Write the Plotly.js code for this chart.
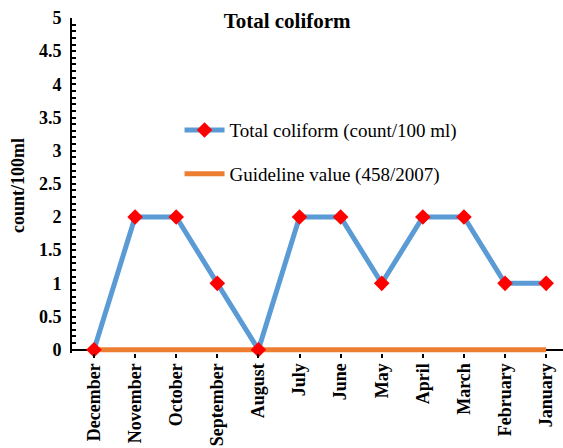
<!DOCTYPE html>
<html><head><meta charset="utf-8">
<script src="https://cdn.plot.ly/plotly-3.0.1.min.js"></script>
<style>html,body{margin:0;padding:0;background:#fff}#c{width:563px;height:448px}</style>
</head><body><div id="c"></div>
<script>
var months = ["December","November","October","September","August","July","June","May","April","March","February","January"];
var coliform = [0,2,2,1,0,2,2,1,2,2,1,1];
var guideline = [0,0,0,0,0,0,0,0,0,0,0,0];
var yTicks = [0,0.5,1,1.5,2,2.5,3,3.5,4,4.5,5];

var traces = [
  {x: months, y: guideline, name: "Guideline value (458/2007)", type: "scatter", mode: "lines",
   legendgroup: "b", legendrank: 2, line: {color: "#ED7D31", width: 5}},
  {x: months, y: coliform, name: "Total coliform (count/100 ml)", type: "scatter", mode: "lines+markers",
   legendgroup: "a", legendrank: 1, cliponaxis: false, line: {color: "#5B9BD5", width: 5}, marker: {symbol: "diamond", color: "#FF0000", size: 12}}
];
var layout = {
  width: 563, height: 448,
  margin: {l: 72, r: 0, t: 18, b: 95},
  paper_bgcolor: "#fff", plot_bgcolor: "#fff",
  font: {family: "Liberation Serif, Times New Roman, serif", color: "#000"},
  title: {text: "<b>Total coliform</b>", x: 0.51, xanchor: "center", y: 0.955, yanchor: "middle", font: {size: 21}},
  showlegend: true,
  legend: {x: 0.219, y: 0.722, xanchor: "left", yanchor: "top", bgcolor: "rgba(0,0,0,0)",
    font: {size: 19}, traceorder: "grouped", tracegroupgap: 16, itemwidth: 40},
  xaxis: {type: "category", range: [-0.535, 11.41], showgrid: false, zeroline: false,
    showline: false, automargin: false,
    ticks: "outside", ticklen: 4, tickcolor: "#000", tickwidth: 2,
    tickangle: -90, tickfont: {size: 18}, ticklabelstandoff: -2,
    ticktext: months.map(function(m){return "<b>"+m+"</b>";}), tickvals: months},
  yaxis: {range: [-0.05, 5], showgrid: false, zeroline: true, zerolinecolor: "#000", zerolinewidth: 2,
    showline: true, linecolor: "#000", linewidth: 2,
    tickvals: yTicks, ticktext: yTicks.map(function(v){return "<b>"+v+"</b>";}),
    ticks: "inside", ticklen: 4, tickcolor: "#000", tickwidth: 2,
    minor: {dtick: 0.1, tick0: 0, ticks: "inside", ticklen: 4, tickcolor: "#000", tickwidth: 1.5},
    tickfont: {size: 18}, ticklabelstandoff: 5,
    title: {text: "<b>count/100ml</b>", font: {size: 18}, standoff: 10}}
};
Plotly.newPlot("c", traces, layout, {displayModeBar: false});
</script></body></html>
